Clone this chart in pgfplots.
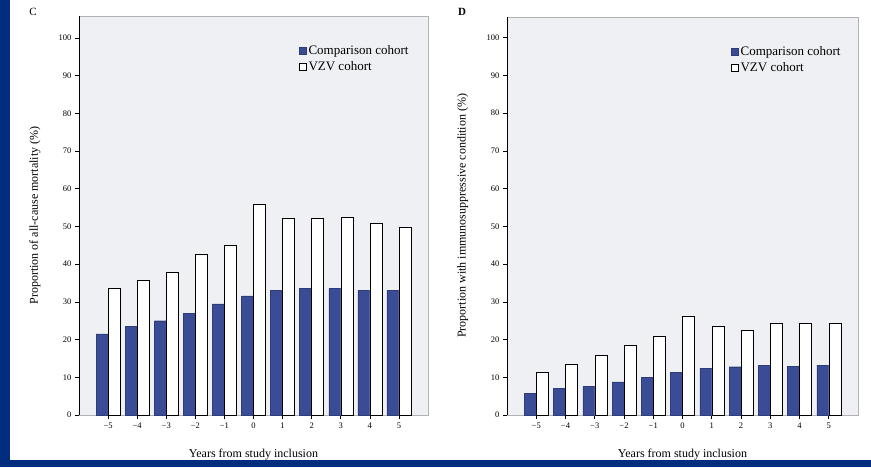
\documentclass[border=0pt]{standalone}
\usepackage{fontspec}
\setmainfont{Liberation Serif}
\usepackage{pgfplots}
\pgfplotsset{compat=1.18}
\definecolor{frameblue}{RGB}{0,45,125}
\definecolor{barblue}{RGB}{58,76,150}
\definecolor{bggray}{RGB}{238,240,244}
\pgfplotsset{
 sqlegend/.style={legend image code/.code={\draw[##1] (0pt,-3.5pt) rectangle (7pt,3.5pt);}},
 mystyle/.style={
  scale only axis, width=349pt, height=399pt,
  xmin=-6, xmax=6, ymin=0, ymax=105.8,
  axis background/.style={fill=bggray},
  axis line style={gray!60, line width=0.6pt},
  xtick={-5,...,5}, xticklabels={−5,−4,−3,−2,−1,0,1,2,3,4,5},
  ytick={0,10,...,100},
  tick align=outside, tick pos=left, major tick length=4pt,
  tick style={black, line width=0.6pt},
  ticklabel style={font=\fontsize{8.5}{9}\selectfont},
  /pgf/number format/assume math mode=true,
  every axis y label/.style={at={(axis description cs:-0.126,0.5)}, rotate=90, anchor=center, font=\fontsize{12}{13}\selectfont},
  every axis x label/.style={at={(axis description cs:0.5,-0.1)}, anchor=center, font=\fontsize{12}{13}\selectfont},
  legend style={draw=none, fill=none, font=\fontsize{13}{15}\selectfont, at={(0.627,0.935)}, anchor=north west, row sep=2pt, inner sep=1pt},
  legend cell align=left,
  ybar, bar width=12pt,
  anchor=south west, clip=false,
 }
}
\pgfplotstableread{
x blue white
-5 21.5 33.5
-4 23.5 35.6
-3 25.0 37.9
-2 27.0 42.7
-1 29.5 44.9
0 31.6 56.0
1 33.0 52.3
2 33.5 52.2
3 33.5 52.5
4 33.0 50.8
5 33.0 49.9
}\dataC
\pgfplotstableread{
x blue white
-5 5.8 11.4
-4 7.0 13.5
-3 7.6 15.8
-2 8.8 18.4
-1 10.0 21.0
0 11.3 26.2
1 12.4 23.5
2 12.8 22.5
3 13.2 24.2
4 12.9 24.2
5 13.2 24.2
}\dataD
\begin{document}
\begin{tikzpicture}
\fill[white] (0pt,0pt) rectangle (871pt,467pt);
\fill[frameblue] (0pt,0pt) rectangle (10pt,467pt);
\fill[frameblue] (0pt,0pt) rectangle (871pt,7pt);
\node[font=\fontsize{11}{12}\selectfont] at (33pt,455pt) {C};
\node[font=\fontsize{11}{12}\selectfont\bfseries] at (462pt,455pt) {D};
\begin{axis}[mystyle, at={(79pt,52pt)},
  ylabel={Proportion of all-cause mortality (\%)},
  xlabel={Years from study inclusion}]
\addplot[fill=barblue, draw=barblue!80!black, bar shift=-6pt, sqlegend] table[x=x,y=blue] {\dataC};
\addplot[fill=white, draw=black, line width=0.5pt, bar shift=6pt, sqlegend] table[x=x,y=white] {\dataC};
\legend{Comparison cohort, VZV cohort}
\draw[black, line width=0.7pt] (rel axis cs:0,0) -- (rel axis cs:0,1);
\end{axis}
\begin{axis}[mystyle, at={(507pt,52pt)}, width=351pt, height=398pt, ymax=105.5,
  legend style={at={(0.635,0.935)}},
  ylabel={Proportion with immunosuppressive condition (\%)},
  xlabel={Years from study inclusion}]
\addplot[fill=barblue, draw=barblue!80!black, bar shift=-6pt, sqlegend] table[x=x,y=blue] {\dataD};
\addplot[fill=white, draw=black, line width=0.5pt, bar shift=6pt, sqlegend] table[x=x,y=white] {\dataD};
\legend{Comparison cohort, VZV cohort}
\draw[black, line width=0.7pt] (rel axis cs:0,0) -- (rel axis cs:0,1);
\end{axis}
\end{tikzpicture}
\end{document}
